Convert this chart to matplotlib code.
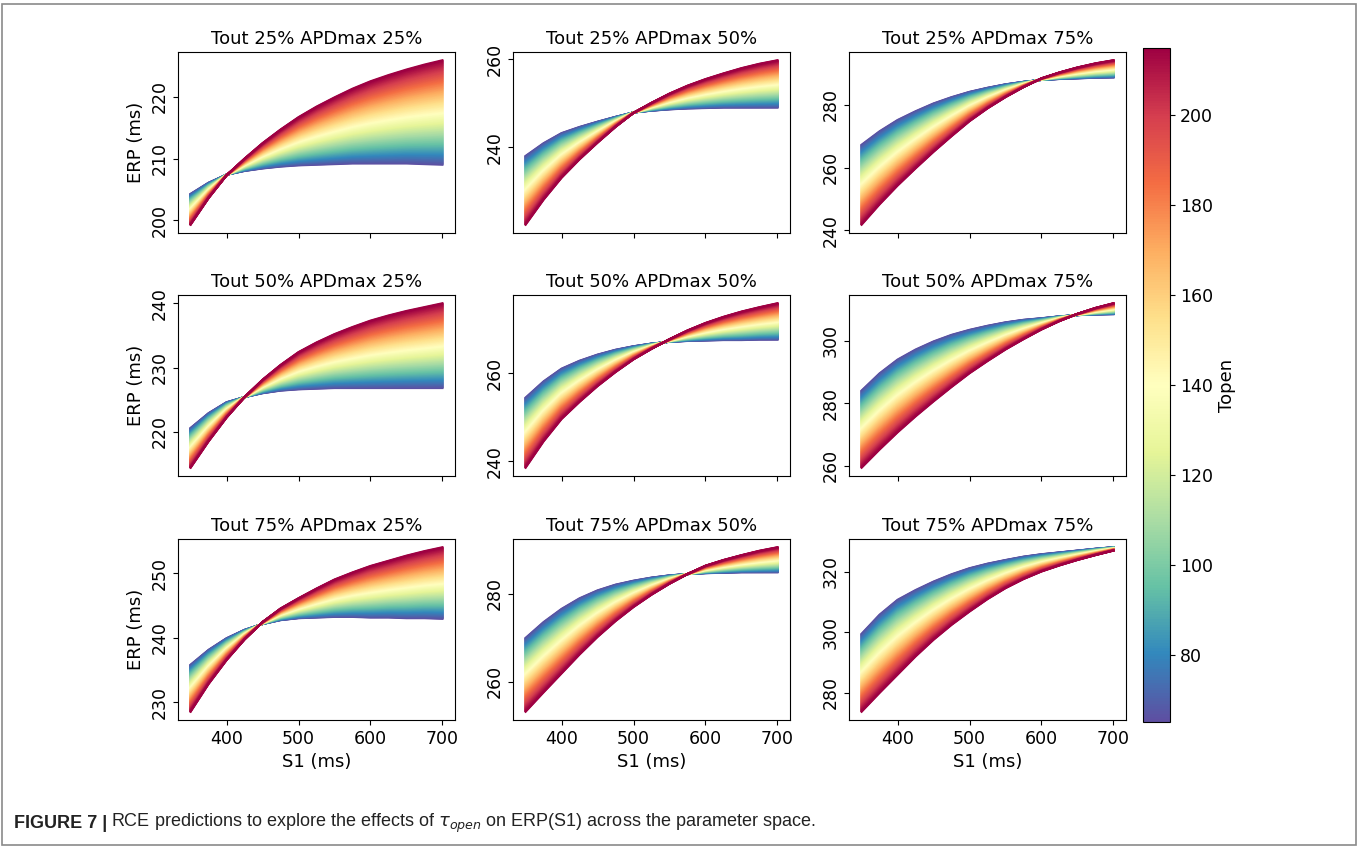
import numpy as np
import matplotlib
matplotlib.use("Agg")
import matplotlib.pyplot as plt
from matplotlib.patches import Rectangle
from matplotlib.ticker import MultipleLocator

# S1 grid (ms)
s1 = [350, 375, 400, 425, 450, 475, 500, 525, 550, 575, 600, 625, 650, 675, 700]

# Topen range of the colour bar
topen_min = 65
topen_max = 215
topen = np.arange(topen_min, topen_max + 1)

tout_levels = [25, 50, 75]
apd_levels = [25, 50, 75]

# ERP curves for the lowest Topen (blue edge) and highest Topen (red edge)
# rows: Tout 25/50/75, cols: APDmax 25/50/75
erp_low = [
    [[204.3, 206.1, 207.4, 208.0, 208.4, 208.7, 208.9, 209.0, 209.1, 209.2, 209.2, 209.2, 209.2, 209.1, 209.0],
     [238.0, 240.9, 243.2, 244.6, 245.8, 246.9, 247.9, 248.3, 248.6, 248.8, 248.9, 249.0, 249.0, 249.0, 249.0],
     [267.3, 271.6, 275.2, 278.0, 280.5, 282.5, 284.2, 285.5, 286.6, 287.4, 288.0, 288.3, 288.5, 288.7, 288.8]],
    [[220.6, 222.9, 224.6, 225.4, 226.0, 226.4, 226.6, 226.7, 226.8, 226.8, 226.8, 226.8, 226.8, 226.8, 226.8],
     [254.5, 258.2, 261.1, 262.9, 264.3, 265.4, 266.2, 266.8, 267.2, 267.4, 267.5, 267.6, 267.6, 267.7, 267.7],
     [284.1, 289.6, 294.0, 297.2, 299.8, 301.9, 303.5, 304.8, 305.9, 306.7, 307.2, 307.8, 308.2, 308.4, 308.5]],
    [[235.8, 238.1, 239.9, 241.2, 242.1, 242.7, 243.0, 243.1, 243.2, 243.2, 243.1, 243.1, 243.0, 243.0, 242.9],
     [270.0, 273.6, 276.6, 279.0, 280.8, 282.1, 283.0, 283.7, 284.2, 284.5, 284.7, 284.8, 284.9, 284.9, 284.9],
     [299.5, 305.8, 310.7, 313.9, 316.7, 319.1, 321.1, 322.6, 323.8, 324.9, 325.7, 326.3, 326.9, 327.5, 328.0]],
]
erp_high = [
    [[199.3, 203.6, 207.3, 210.0, 212.5, 214.7, 216.7, 218.4, 219.9, 221.3, 222.5, 223.5, 224.4, 225.2, 225.9],
     [222.3, 228.0, 233.0, 237.2, 241.0, 244.6, 247.8, 250.1, 252.2, 254.0, 255.5, 256.8, 258.0, 259.0, 259.8],
     [241.7, 248.2, 254.2, 259.7, 265.0, 270.0, 274.8, 278.9, 282.5, 285.7, 288.5, 290.4, 292.0, 293.3, 294.3]],
    [[214.4, 218.5, 222.2, 225.4, 228.1, 230.4, 232.4, 233.9, 235.2, 236.3, 237.3, 238.1, 238.8, 239.4, 240.0],
     [238.5, 244.5, 249.6, 253.5, 257.1, 260.3, 263.2, 265.6, 267.8, 269.8, 271.5, 272.9, 274.1, 275.1, 276.0],
     [259.4, 265.2, 270.7, 275.8, 280.6, 285.2, 289.6, 293.5, 297.2, 300.5, 303.6, 306.3, 308.6, 310.5, 312.0]],
    [[228.5, 232.8, 236.5, 239.7, 242.4, 244.5, 246.1, 247.6, 249.0, 250.1, 251.1, 251.9, 252.7, 253.4, 254.0],
     [253.2, 257.6, 261.9, 266.2, 270.2, 273.8, 277.0, 279.8, 282.3, 284.5, 286.4, 287.7, 288.8, 289.8, 290.6],
     [273.8, 280.0, 286.0, 292.0, 297.5, 302.4, 306.8, 310.9, 314.5, 317.5, 320.0, 322.0, 323.8, 325.4, 326.9]],
]

W, H = 1360, 848
fig = plt.figure(figsize=(W / 100, H / 100), dpi=100)
cmap = plt.get_cmap('Spectral_r')
norm = matplotlib.colors.Normalize(vmin=topen_min, vmax=topen_max)

col_left = [178, 513, 849]
row_top = [52, 295, 539]
aw, ah = 277, 181

x = np.array(s1, dtype=float)
for i, tout in enumerate(tout_levels):
    for j, apd in enumerate(apd_levels):
        ax = fig.add_axes([col_left[j] / W, 1 - (row_top[i] + ah) / H, aw / W, ah / H])
        lo = np.array(erp_low[i][j])
        hi = np.array(erp_high[i][j])
        for t in topen:
            w = (t - topen_min) / (topen_max - topen_min)
            ax.plot(x, lo + w * (hi - lo), color=cmap(norm(t)), lw=1.5)
        ax.set_title('Tout %d%% APDmax %d%%' % (tout, apd), fontsize=13)
        ax.xaxis.set_major_locator(MultipleLocator(100))
        ax.yaxis.set_major_locator(MultipleLocator(10 if j == 0 else 20))
        ax.tick_params(labelsize=12.5)
        ax.tick_params(axis='y', labelrotation=90)
        for lab in ax.get_yticklabels():
            lab.set_va('center')
        if i < 2:
            ax.set_xticklabels([])
        else:
            ax.set_xlabel('S1 (ms)', fontsize=13)
        if j == 0:
            ax.set_ylabel('ERP (ms)', fontsize=13)

cax = fig.add_axes([1143 / W, 1 - 722 / H, 27 / W, 674 / H])
sm = matplotlib.cm.ScalarMappable(norm=norm, cmap=cmap)
cb = fig.colorbar(sm, cax=cax)
cb.set_label('Topen', fontsize=13)
cb.ax.tick_params(labelsize=12.5)

# caption
cap_font = ['Liberation Sans Narrow', 'Liberation Sans', 'DejaVu Sans']
t1 = fig.text(14 / W, 1 - 823 / H, 'FIGURE 7 |', fontsize=13, fontweight='bold',
              family=cap_font, va='center', color='#222222')
fig.canvas.draw()
bb = t1.get_window_extent()
fig.text(bb.x1 / W + 4 / W, 1 - 823 / H,
         r'RCE predictions to explore the effects of $\tau_{open}$ on ERP(S1) across the parameter space.',
         fontsize=13, family=cap_font, va='center', color='#222222')

fig.patches.append(Rectangle((2 / W, 3 / H), 1354 / W, 841 / H, transform=fig.transFigure,
                             fill=False, edgecolor='#8a8a8a', lw=1.2))

fig.savefig('out.png', dpi=100)
